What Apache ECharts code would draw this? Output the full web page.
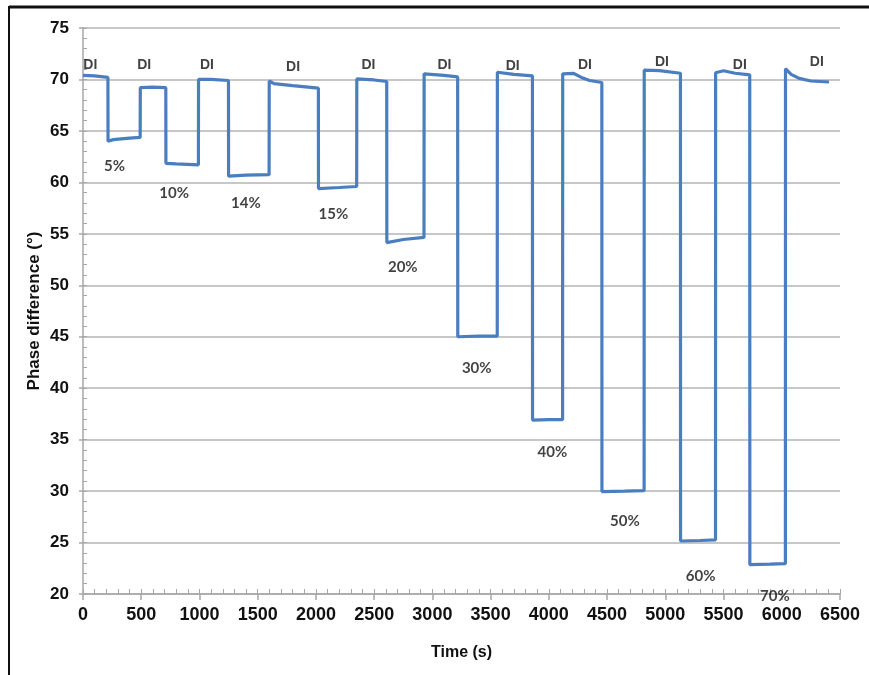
<!DOCTYPE html>
<html>
<head>
<meta charset="utf-8">
<script src="https://cdn.jsdelivr.net/npm/echarts@6/dist/echarts.min.js"></script>
<style>
  html, body { margin: 0; padding: 0; background: #ffffff; }
  #chart { width: 869px; height: 675px; }
</style>
</head>
<body>
<div id="chart"></div>
<script>
// ---- Data ----
// Time (s) and phase difference (degrees), step-wise sensor response
const timeS = [
  0, 100, 214,
  215, 260, 400, 491,
  492, 600, 711,
  712, 800, 991,
  992, 1100, 1249,
  1250, 1400, 1598,
  1599, 1640, 1800, 2021,
  2022, 2200, 2350,
  2351, 2500, 2608,
  2609, 2750, 2928,
  2929, 3100, 3217,
  3218, 3400, 3557,
  3558, 3700, 3859,
  3860, 4000, 4118,
  4119, 4210, 4280, 4350, 4455,
  4456, 4650, 4818,
  4819, 4950, 5130,
  5131, 5300, 5431,
  5432, 5500, 5600, 5725,
  5726, 5900, 6031,
  6032, 6080, 6150, 6250, 6406
];
const phaseDeg = [
  70.4, 70.35, 70.2,
  64.0, 64.15, 64.3, 64.37,
  69.2, 69.25, 69.2,
  61.85, 61.8, 61.7,
  70.0, 70.0, 69.9,
  60.6, 60.7, 60.75,
  69.85, 69.6, 69.4, 69.15,
  59.4, 59.5, 59.6,
  70.05, 69.95, 69.8,
  54.15, 54.45, 54.65,
  70.55, 70.4, 70.25,
  45.0, 45.05, 45.05,
  70.7, 70.5, 70.35,
  36.9, 36.95, 36.95,
  70.55, 70.6, 70.2, 69.9, 69.7,
  29.95, 30.0, 30.05,
  70.9, 70.85, 70.6,
  25.15, 25.2, 25.25,
  70.65, 70.85, 70.6, 70.45,
  22.85, 22.9, 22.95,
  71.05, 70.5, 70.1, 69.85, 69.75
];

// Annotation labels (text, anchored at data coordinates)
const diLabelTime  = [63, 526, 1064, 1804, 2451, 3103, 3690, 4310, 4971, 5640, 6301];
const diLabelPhase = [71.37, 71.43, 71.43, 71.24, 71.43, 71.43, 71.27, 71.43, 71.72, 71.43, 71.72];
const concLabelText  = ['5%', '10%', '14%', '15%', '20%', '30%', '40%', '50%', '60%', '70%'];
const concLabelTime  = [271, 783, 1399, 2150, 2746, 3381, 4030, 4653, 5303, 5941];
const concLabelPhase = [61.62, 58.96, 57.99, 56.92, 51.73, 41.96, 33.76, 27.05, 21.77, 19.76];

// Axis tick settings
const xMin = 0, xMax = 6500, xStep = 500, xMinorStep = 100;
const yMin = 20, yMax = 75, yStep = 5, yMinorStep = 1;

// ---- Chart ----
const lineData = timeS.map((t, i) => [t, phaseDeg[i]]);
const diData = diLabelTime.map((t, i) => ({ value: [t, diLabelPhase[i]], name: 'DI' }));
const concData = concLabelTime.map((t, i) => ({ value: [t, concLabelPhase[i]], name: concLabelText[i] }));

const axisGray = '#a6a6a6';
const textDark = '#111111';

const chart = echarts.init(document.getElementById('chart'), null, { renderer: 'canvas' });
chart.setOption({
  animation: false,
  backgroundColor: '#ffffff',
  grid: { left: 83, right: 29, top: 28, bottom: 81, containLabel: false },
  xAxis: [
    {
      type: 'value', min: xMin, max: xMax, interval: xStep, position: 'bottom',
      name: 'Time (s)', nameLocation: 'middle', nameGap: 51, nameMoveOverlap: false,
      nameTextStyle: { fontFamily: 'Liberation Sans', fontWeight: 'bold', fontSize: 16, color: textDark },
      axisLine: { show: true, lineStyle: { color: axisGray, width: 1.5 } },
      axisTick: { show: true, inside: false, length: 6, lineStyle: { color: axisGray, width: 1.5 } },
      axisLabel: { margin: 12, fontFamily: 'Liberation Sans', fontWeight: 'bold', fontSize: 18, color: textDark,
                   formatter: v => String(v) },
      splitLine: { show: false }
    },
    {
      type: 'value', min: xMin, max: xMax, interval: xMinorStep, position: 'bottom',
      axisLine: { show: false },
      axisTick: { show: true, inside: true, length: 5, lineStyle: { color: axisGray, width: 1 } },
      axisLabel: { show: false },
      splitLine: { show: false }
    }
  ],
  yAxis: [
    {
      type: 'value', min: yMin, max: yMax, interval: yStep, position: 'left',
      name: 'Phase difference (°)', nameLocation: 'middle', nameGap: 40, nameRotate: 90, nameMoveOverlap: false,
      nameTextStyle: { fontFamily: 'Liberation Sans', fontWeight: 'bold', fontSize: 17, color: textDark },
      axisLine: { show: true, lineStyle: { color: axisGray, width: 1.5 } },
      axisTick: { show: true, inside: false, length: 4, lineStyle: { color: axisGray, width: 1.5 } },
      axisLabel: { margin: 14, fontFamily: 'Liberation Sans', fontWeight: 'bold', fontSize: 17, color: textDark,
                   formatter: v => String(v) },
      splitLine: { show: true, lineStyle: { color: '#b4b4b4', width: 1.5 } }
    },
    {
      type: 'value', min: yMin, max: yMax, interval: yMinorStep, position: 'left',
      axisLine: { show: false },
      axisTick: { show: true, inside: true, length: 4, lineStyle: { color: axisGray, width: 1 } },
      axisLabel: { show: false },
      splitLine: { show: false }
    }
  ],
  series: [
    {
      type: 'line', xAxisIndex: 0, yAxisIndex: 0,
      data: lineData, showSymbol: false, symbol: 'none',
      lineStyle: { color: '#4a7ebf', width: 3.2 },
      smooth: false, z: 3
    },
    {
      type: 'scatter', xAxisIndex: 0, yAxisIndex: 0, clip: false,
      data: diData, symbolSize: 1, itemStyle: { color: 'rgba(0,0,0,0)' },
      label: {
        show: true, position: 'inside', formatter: p => p.name,
        fontFamily: 'Liberation Sans', fontWeight: 'bold', fontSize: 14, color: textDark
      },
      z: 4
    },
    {
      type: 'scatter', xAxisIndex: 0, yAxisIndex: 0, clip: false,
      data: concData, symbolSize: 1, itemStyle: { color: 'rgba(0,0,0,0)' },
      label: {
        show: true, position: 'inside', formatter: p => p.name,
        fontFamily: 'Lato', fontWeight: 'bold', fontSize: 15, color: textDark
      },
      z: 4
    }
  ],
  graphic: [
    { type: 'line', shape: { x1: 9, y1: 7, x2: 869, y2: 7 }, style: { stroke: '#111', lineWidth: 3 } },
    { type: 'line', shape: { x1: 9, y1: 6, x2: 9, y2: 675 }, style: { stroke: '#111', lineWidth: 2 } }
  ]
});
</script>
</body>
</html>
